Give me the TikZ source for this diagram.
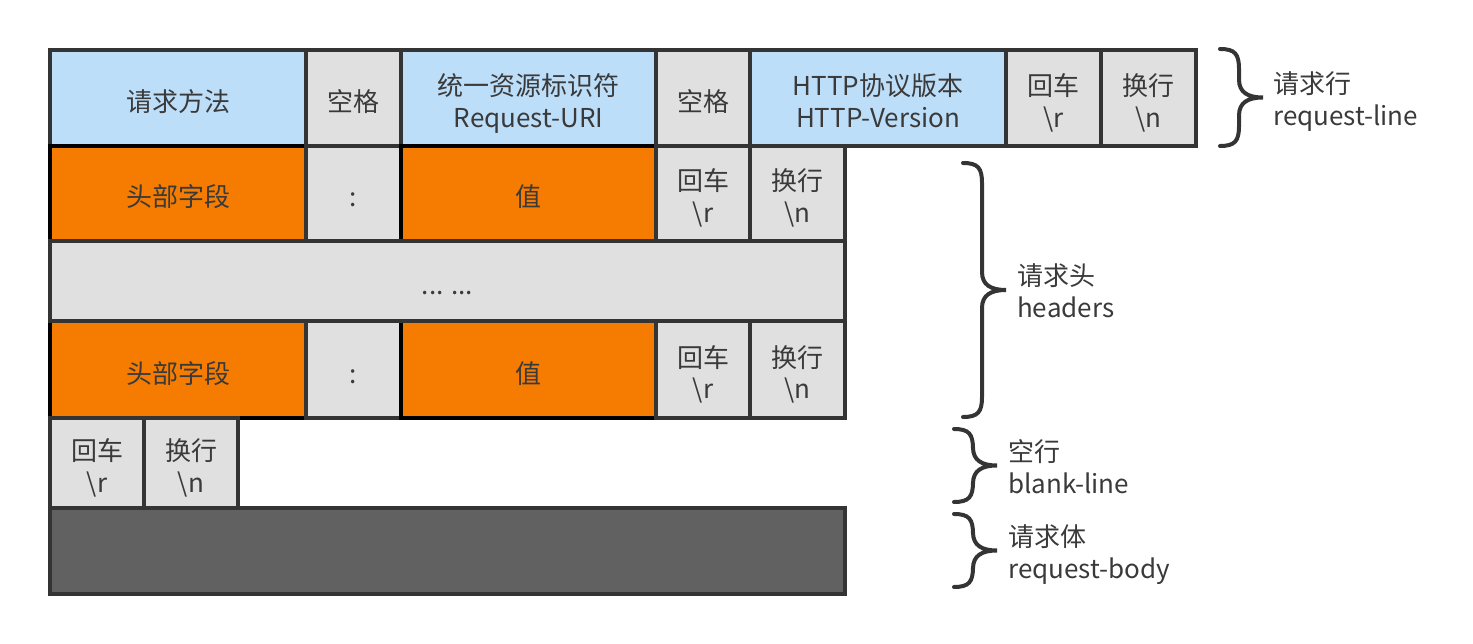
\documentclass[tikz,border=0pt]{standalone}
\usepackage{fontspec}
\setmainfont{Noto Sans CJK SC}
\usetikzlibrary{positioning}
\definecolor{edgegray}{RGB}{52,52,52}
\definecolor{inkgray}{RGB}{58,58,58}
\definecolor{skyblue}{RGB}{189,222,249}
\definecolor{lightgray}{RGB}{224,224,224}
\definecolor{fieldorange}{RGB}{245,124,0}
\definecolor{bodygray}{RGB}{97,97,97}
% two lines of text, strutted so they sit like the single lines
\newcommand{\twoline}[3][33]{\rule{0pt}{#1pt}#2\\#3\rule[-6pt]{0pt}{0pt}}
\tikzset{
  textstrut/.style={execute at begin node={\rule{0pt}{33pt}},execute at end node={\rule[-6pt]{0pt}{0pt}}},
  cell/.style={draw=edgegray,line width=4pt,anchor=north west,outer sep=0pt,inner sep=0pt,
    align=center,text=inkgray,font=\fontsize{26}{32}\selectfont,textstrut},
  wh/.style 2 args={minimum width=#1pt,minimum height=#2pt},
  graycell/.style={cell,fill=lightgray},
  bluecell/.style={cell,fill=skyblue},
  orangecell/.style={cell,fill=fieldorange,draw=black},
  bracestyle/.style={draw=edgegray,line width=4pt,line cap=round},
  sidelabel/.style={align=left,inner sep=0pt,text=inkgray,font=\fontsize{26}{32}\selectfont}
}
% right-hand curly brace: left x, top y, bottom y, name of its tip
\newcommand{\sidebrace}[4]{%
  \draw[bracestyle] (#1,#2) .. controls ({#1+15},#2) and ({#1+19},{#2+5}) .. ({#1+19},{#2+20})
    -- ({#1+19},{(#2+#3)/2-18}) .. controls ({#1+19},{(#2+#3)/2-5}) and ({#1+28},{(#2+#3)/2}) .. ({#1+43},{(#2+#3)/2})
    .. controls ({#1+28},{(#2+#3)/2}) and ({#1+19},{(#2+#3)/2+5}) .. ({#1+19},{(#2+#3)/2+18})
    -- ({#1+19},{#3-20}) .. controls ({#1+19},{#3-5}) and ({#1+15},#3) .. (#1,#3);
  \coordinate (#4) at ({#1+43},{(#2+#3)/2});}
\begin{document}
\begin{tikzpicture}[x=1pt,y=-1pt]
  \useasboundingbox (0,0) rectangle (1473,644);
  % request line
  \node[bluecell,wh={256}{96}] (method) at (50,50) {请求方法};
  \node[graycell,wh={95}{96}] (space1) at (306,50) {空格};
  \node[bluecell,wh={255}{96}] (uri) at (401,50) {\twoline{统一资源标识符}{Request-URI}};
  \node[graycell,wh={94}{96}] (space2) at (656,50) {空格};
  \node[bluecell,wh={256}{96}] (version) at (750,50) {\twoline{HTTP协议版本}{HTTP-Version}};
  \node[graycell,wh={95}{96}] (cr1) at (1006,50) {\twoline{回车}{\textbackslash r}};
  \node[graycell,wh={95}{96}] (lf1) at (1101,50) {\twoline{换行}{\textbackslash n}};
  % header lines
  \foreach \y/\h/\i in {146/95/1,321/97/2}{
    \node[orangecell,wh={256}{\h}] (hkey\i) at (50,\y) {头部字段};
    \node[graycell,wh={95}{\h}] (colon\i) at (306,\y) {:};
    \node[orangecell,wh={255}{\h}] (hval\i) at (401,\y) {值};
    \node[graycell,wh={94}{\h}] (hcr\i) at (656,\y) {\twoline{回车}{\textbackslash r}};
    \node[graycell,wh={95}{\h}] (hlf\i) at (750,\y) {\twoline{换行}{\textbackslash n}};
  }
  \node[graycell,wh={795}{80}] (more) at (50,241) {... ...};
  % blank line and body
  \node[graycell,wh={94}{90}] (cr4) at (50,418) {\twoline{回车}{\textbackslash r}};
  \node[graycell,wh={94}{90}] (lf4) at (144,418) {\twoline{换行}{\textbackslash n}};
  \node[cell,fill=bodygray,wh={795}{86}] (body) at (50,508) {};
  % braces
  \sidebrace{1220}{49}{146}{linetip}
  \sidebrace{963}{163}{417}{headtip}
  \sidebrace{954}{429}{502}{blanktip}
  \sidebrace{954}{514}{587}{bodytip}
  \node[sidelabel,right=10pt of linetip] (linelabel) {\twoline[30]{请求行}{request-line}};
  \node[sidelabel,right=11pt of headtip] (headlabel) {\twoline[30]{请求头}{headers}};
  \node[sidelabel,right=11pt of blanktip] (blanklabel) {\twoline[30]{空行}{blank-line}};
  \node[sidelabel,right=11pt of bodytip] (bodylabel) {\twoline[30]{请求体}{request-body}};
\end{tikzpicture}
\end{document}
